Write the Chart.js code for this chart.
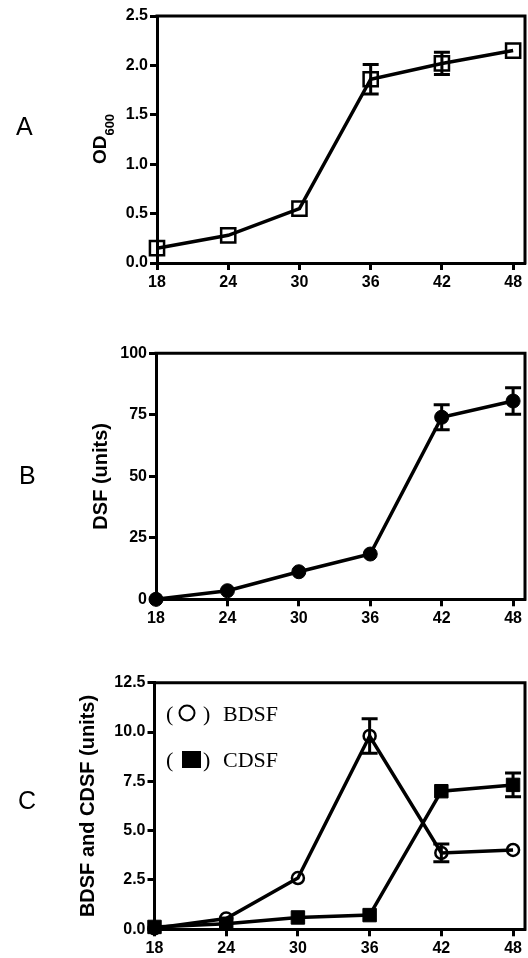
<!DOCTYPE html>
<html>
<head>
<meta charset="utf-8">
<script src="https://cdn.jsdelivr.net/npm/chart.js@4.4.1/dist/chart.umd.min.js"></script>
<style>
  html, body { margin: 0; padding: 0; background: #fff; }
  #wrap { position: relative; width: 528px; height: 958px; overflow: hidden; }
  canvas { position: absolute; left: 0; }
  .tag { position: absolute; font: 25px 'Liberation Sans', Arial, sans-serif; line-height: 25px; color: #000; }
</style>
</head>
<body>
<div id="wrap">
  <canvas id="chartA" width="528" height="310" style="top:0;width:528px;height:310px"></canvas>
  <canvas id="chartB" width="528" height="330" style="top:310px;width:528px;height:330px"></canvas>
  <canvas id="chartC" width="528" height="318" style="top:640px;width:528px;height:318px"></canvas>
  <div class="tag" style="left:16px;top:114px">A</div>
  <div class="tag" style="left:19px;top:463px">B</div>
  <div class="tag" style="left:18px;top:788px">C</div>
</div>
<script>
// hours after inoculation
const hours = [18, 24, 30, 36, 42, 48];
const xTicks = [18, 24, 30, 36, 42, 48];

// A: growth
const od600 = [0.15, 0.28, 0.55, 1.86, 2.02, 2.15];
const od600Err = [0, 0, 0, 0.15, 0.113, 0];
const odTicks = [0, 0.5, 1.0, 1.5, 2.0, 2.5];

// B: DSF
const dsf = [0, 3.5, 11.2, 18.4, 74.0, 80.6];
const dsfErr = [0, 0, 0, 0, 5.1, 5.4];
const dsfTicks = [0, 25, 50, 75, 100];

// C: BDSF / CDSF
const bdsf = [0.05, 0.55, 2.6, 9.8, 3.87, 4.02];
const bdsfErr = [0, 0, 0, 0.87, 0.45, 0];
const cdsf = [0.12, 0.28, 0.6, 0.72, 7.0, 7.32];
const cdsfErr = [0, 0, 0, 0, 0, 0.6];
const cTicks = [0, 2.5, 5.0, 7.5, 10.0, 12.5];

Chart.defaults.font.family = "'Liberation Sans', Arial, sans-serif";
Chart.defaults.color = '#000';

const points = (vals) => hours.map((h, i) => ({x: h, y: vals[i]}));

const errorBars = {
  id: 'errorBars',
  afterDatasetsDraw(chart) {
    const {ctx, scales: {x, y}} = chart;
    ctx.save();
    ctx.strokeStyle = '#000';
    ctx.lineWidth = 3;
    chart.data.datasets.forEach(ds => {
      if (!ds.errors) return;
      ds.data.forEach((p, j) => {
        const e = ds.errors[j];
        if (!e) return;
        const px = x.getPixelForValue(p.x);
        const top = y.getPixelForValue(p.y + e);
        const bot = y.getPixelForValue(p.y - e);
        ctx.beginPath();
        ctx.moveTo(px, top); ctx.lineTo(px, bot);
        ctx.moveTo(px - 8, top); ctx.lineTo(px + 8, top);
        ctx.moveTo(px - 8, bot); ctx.lineTo(px + 8, bot);
        ctx.stroke();
      });
    });
    ctx.restore();
  }
};

// top and right sides of the box
const frame = {
  id: 'frame',
  beforeDatasetsDraw(chart) {
    const {ctx, chartArea: a} = chart;
    ctx.save();
    ctx.strokeStyle = '#000';
    ctx.lineWidth = 3;
    ctx.beginPath();
    ctx.moveTo(a.left - 1.5, a.top);
    ctx.lineTo(a.right, a.top);
    ctx.lineTo(a.right, a.bottom + 1.5);
    ctx.stroke();
    ctx.restore();
  }
};

// OD600 with subscript
const odTitle = {
  id: 'odTitle',
  afterDraw(chart) {
    const ctx = chart.ctx;
    ctx.save();
    ctx.translate(106, 139);
    ctx.rotate(-Math.PI / 2);
    ctx.fillStyle = '#000';
    ctx.textBaseline = 'alphabetic';
    const big = "bold 19px 'Liberation Sans', Arial, sans-serif";
    const small = "bold 13px 'Liberation Sans', Arial, sans-serif";
    ctx.font = big;
    const w1 = ctx.measureText('OD').width;
    ctx.font = small;
    const w2 = ctx.measureText('600').width;
    const start = -(w1 + w2) / 2;
    ctx.font = big;
    ctx.fillText('OD', start, 0);
    ctx.font = small;
    ctx.fillText('600', start + w1, 7.5);
    ctx.restore();
  }
};

const legendC = {
  id: 'legendC',
  afterDraw(chart) {
    const ctx = chart.ctx;
    ctx.save();
    ctx.fillStyle = '#000';
    ctx.strokeStyle = '#000';
    ctx.font = "22px 'Liberation Serif', 'Times New Roman', serif";
    ctx.textBaseline = 'middle';
    chart.data.datasets.forEach((ds, i) => {
      const y = 74 + i * 46;
      ctx.fillText('(', 166, y + 1);
      ctx.fillText(')', 203, y + 1);
      ctx.fillText(ds.label, 223, y + 1);
      if (ds.pointStyle === 'circle') {
        ctx.lineWidth = 2;
        ctx.beginPath();
        ctx.arc(187, y - 1, 7.5, 0, Math.PI * 2);
        ctx.stroke();
      } else {
        ctx.fillRect(182, y - 9, 19, 17);
      }
    });
    ctx.restore();
  }
};

function panel(id, datasets, yTicks, yFmt, yTitle, box, extra) {
  const ctx = document.getElementById(id).getContext('2d');
  const canvasH = ctx.canvas.height;
  return new Chart(ctx, {
    type: 'line',
    data: {datasets},
    options: {
      responsive: false,
      animation: false,
      layout: {autoPadding: false, padding: {top: box.top, right: 3, bottom: 0, left: 0}},
      plugins: {legend: {display: false}, tooltip: {enabled: false}},
      elements: {line: {tension: 0}},
      scales: {
        x: {
          type: 'linear',
          min: 18,
          max: 49,
          afterBuildTicks: (s) => { s.ticks = xTicks.map(v => ({value: v})); },
          afterFit: (s) => {
            s.height = canvasH - box.bottom;
            s.paddingLeft = 0;
            s.paddingRight = 0;
          },
          grid: {drawOnChartArea: false, drawTicks: true, tickLength: 7, tickWidth: 3, tickColor: '#000'},
          border: {display: true, color: '#000', width: 3},
          ticks: {font: {size: 16, weight: 'bold'}, padding: 3, maxRotation: 0, autoSkip: false}
        },
        y: {
          min: 0,
          max: yTicks[yTicks.length - 1],
          afterBuildTicks: (s) => { s.ticks = yTicks.map(v => ({value: v})); },
          afterFit: (s) => {
            s.width = box.left;
            s.paddingTop = 0;
            s.paddingBottom = 0;
          },
          grid: {drawOnChartArea: false, drawTicks: true, tickLength: 7, tickWidth: 3, tickColor: '#000'},
          border: {display: true, color: '#000', width: 3},
          ticks: {font: {size: 16, weight: 'bold'}, padding: 2, callback: yFmt},
          title: yTitle ? {display: true, text: yTitle.text, font: {size: 20, weight: 'bold'}, padding: {top: yTitle.pad, bottom: 0}} : {display: false}
        }
      }
    },
    plugins: [frame, errorBars].concat(extra || [])
  });
}

const lineStyle = {borderColor: '#000', borderWidth: 3.5, clip: false};

panel('chartA', [{
  label: 'OD600',
  data: points(od600),
  errors: od600Err,
  ...lineStyle,
  pointStyle: 'rect',
  pointRadius: 10,
  pointBorderWidth: 2.5,
  pointBorderColor: '#000',
  pointBackgroundColor: 'rgba(0,0,0,0)'
}], odTicks, v => v.toFixed(1), null, {left: 157, top: 16, bottom: 263}, [odTitle]);

panel('chartB', [{
  label: 'DSF',
  data: points(dsf),
  errors: dsfErr,
  ...lineStyle,
  pointStyle: 'circle',
  pointRadius: 7,
  pointBorderWidth: 1,
  pointBorderColor: '#000',
  pointBackgroundColor: '#000'
}], dsfTicks, v => String(v), {text: 'DSF (units)', pad: 89}, {left: 156, top: 43.3, bottom: 289.3});

panel('chartC', [{
  label: 'BDSF',
  data: points(bdsf),
  errors: bdsfErr,
  ...lineStyle,
  pointStyle: 'circle',
  pointRadius: 6,
  pointBorderWidth: 2.5,
  pointBorderColor: '#000',
  pointBackgroundColor: 'rgba(0,0,0,0)'
}, {
  label: 'CDSF',
  data: points(cdsf),
  errors: cdsfErr,
  ...lineStyle,
  pointStyle: 'rect',
  pointRadius: 9.5,
  pointBorderWidth: 1,
  pointBorderColor: '#000',
  pointBackgroundColor: '#000'
}], cTicks, v => v.toFixed(1), {text: 'BDSF and CDSF (units)', pad: 76}, {left: 154.5, top: 42.7, bottom: 289.3}, [legendC]);
</script>
</body>
</html>
